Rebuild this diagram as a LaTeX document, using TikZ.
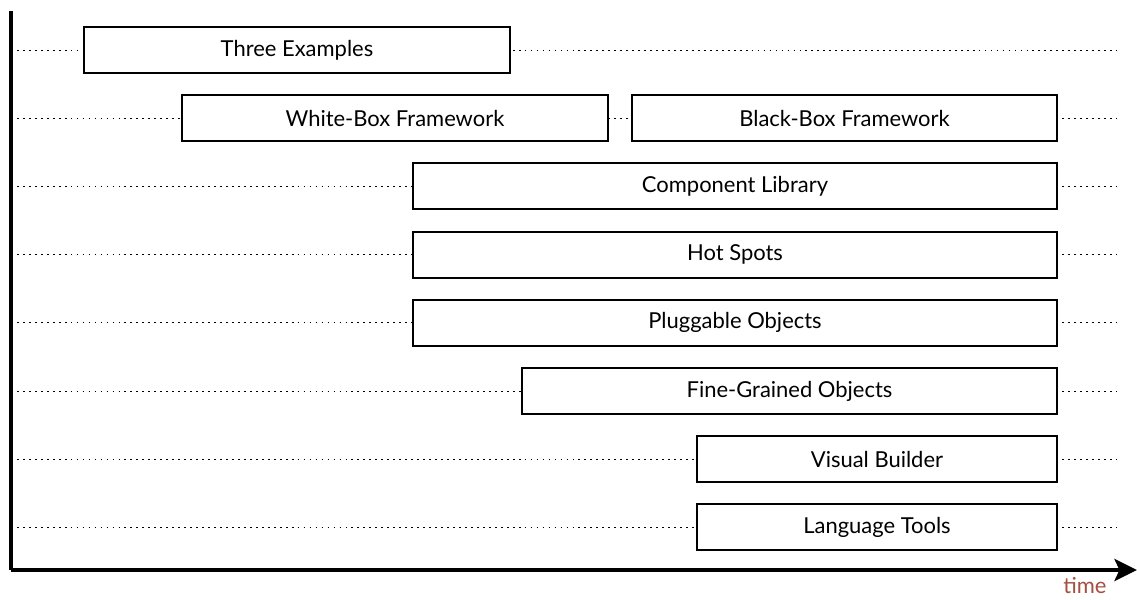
\documentclass[tikz,border=0pt]{standalone}
\usepackage{fontspec}
\setmainfont{Lato}
\usetikzlibrary{arrows.meta,backgrounds}

\begin{document}
\begin{tikzpicture}[x=0.02cm,y=-0.02cm,
	phase/.style={draw,line width=1.1pt,fill=white,minimum height=0.92cm,
		inner sep=0pt,font=\fontsize{12.5}{14}\selectfont},
	guide/.style={line width=0.55pt,dash pattern=on 1pt off 2.4pt},
	axis/.style={line width=2.3pt}]
	\useasboundingbox (0,0) rectangle (1137,599);
	% row guides, left ends on the axis
	\foreach \r/\y in {1/50,2/118.2,3/186.4,4/254.6,5/322.8,6/391,7/459.2,8/527.4} {
		\coordinate (l\r) at (11,\y);
		\coordinate (r\r) at (1117,\y);
	}
	\node[phase,minimum width=8.52cm] (ex) at (297,50) {Three Examples};
	\node[phase,minimum width=8.52cm] (wb) at (395,118.2) {White-Box Framework};
	\node[phase,minimum width=8.5cm] (bb) at (844.5,118.2) {Black-Box Framework};
	\node[phase,minimum width=12.88cm] (cl) at (735,186.4) {Component Library};
	\node[phase,minimum width=12.88cm] (hs) at (735,254.6) {Hot Spots};
	\node[phase,minimum width=12.88cm] (po) at (735,322.8) {Pluggable Objects};
	\node[phase,minimum width=10.7cm] (fg) at (789.5,391) {Fine-Grained Objects};
	\node[phase,minimum width=7.2cm] (vb) at (877,459.2) {Visual Builder};
	\node[phase,minimum width=7.2cm] (lt) at (877,527.4) {Language Tools};
	\begin{scope}[on background layer]
		\foreach \r in {1,...,8}
			\draw[guide] (l\r) -- (r\r);
	\end{scope}
	% time axis
	\coordinate (top) at (11,11);
	\coordinate (origin) at (11,570);
	\coordinate (end) at (1137,570);
	\draw[axis] (top) -- (origin);
	\draw[axis,-{Stealth[length=0.45cm,width=0.44cm,inset=0.1cm]}] (origin) -- (end)
		node[pos=1,below left,xshift=-0.5cm,yshift=-0.04cm,inner sep=2pt,
			text={rgb,255:red,165;green,78;blue,66},font=\fontsize{12.5}{14}\selectfont] (time) {time};
\end{tikzpicture}
\end{document}
